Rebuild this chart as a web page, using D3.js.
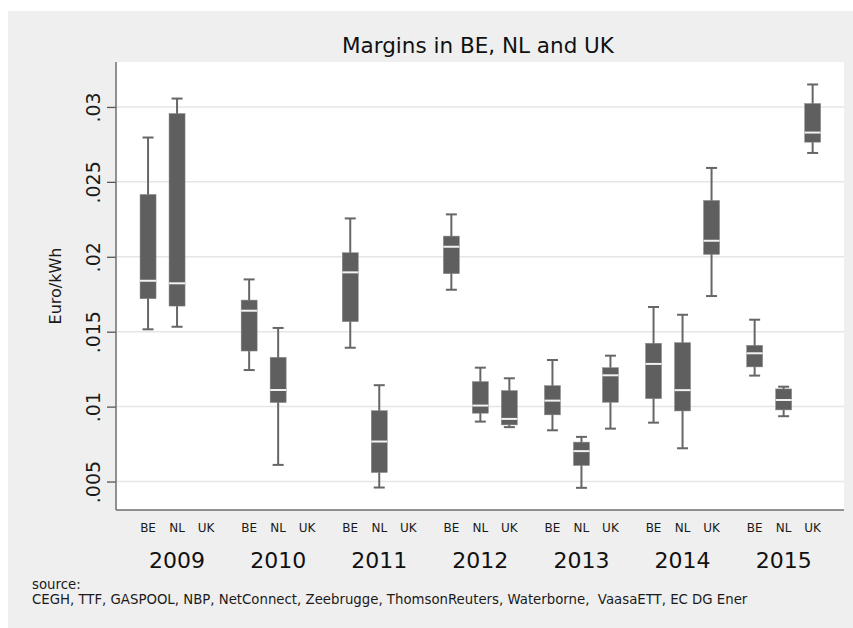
<!DOCTYPE html>
<html>
<head>
<meta charset="utf-8">
<script src="https://cdn.jsdelivr.net/npm/d3@7"></script>
<style>
  html, body { margin: 0; padding: 0; background: #ffffff; }
  text { font-family: "DejaVu Sans", Verdana, sans-serif; }
</style>
</head>
<body>
<svg id="chart" width="853" height="628"></svg>
<script>
// ---------- data ----------
const years = ["2009", "2010", "2011", "2012", "2013", "2014", "2015"];
const countries = ["BE", "NL", "UK"];

// Belgium
const beLow  = [0.01516, 0.01244, 0.01393, 0.01780, 0.00842, 0.00893, 0.01207];
const beQ1   = [0.01720, 0.01371, 0.01567, 0.01887, 0.00945, 0.01053, 0.01265];
const beMed  = [0.01840, 0.01640, 0.01896, 0.02067, 0.01040, 0.01285, 0.01356];
const beQ3   = [0.02416, 0.01711, 0.02027, 0.02138, 0.01140, 0.01423, 0.01409];
const beHigh = [0.02796, 0.01849, 0.02256, 0.02283, 0.01311, 0.01665, 0.01580];

// Netherlands
const nlLow  = [0.01533, 0.00611, 0.00460, 0.00900, 0.00458, 0.00722, 0.00936];
const nlQ1   = [0.01671, 0.01027, 0.00560, 0.00956, 0.00607, 0.00971, 0.00978];
const nlMed  = [0.01823, 0.01111, 0.00767, 0.01007, 0.00703, 0.01110, 0.01044];
const nlQ3   = [0.02956, 0.01329, 0.00973, 0.01167, 0.00763, 0.01427, 0.01118];
const nlHigh = [0.03056, 0.01525, 0.01143, 0.01260, 0.00798, 0.01613, 0.01133];

// United Kingdom (no data 2009-2011)
const ukLow  = [null, null, null, 0.00863, 0.00853, 0.01738, 0.02693];
const ukQ1   = [null, null, null, 0.00878, 0.01029, 0.02016, 0.02765];
const ukMed  = [null, null, null, 0.00918, 0.01209, 0.02107, 0.02829];
const ukQ3   = [null, null, null, 0.01107, 0.01260, 0.02376, 0.03023];
const ukHigh = [null, null, null, 0.01189, 0.01340, 0.02593, 0.03150];

const yTickValues = [0.005, 0.01, 0.015, 0.02, 0.025, 0.03];
const yTickLabels = [".005", ".01", ".015", ".02", ".025", ".03"];

const titleText = "Margins in BE, NL and UK";
const yTitle = "Euro/kWh";
const noteLines = ["source:", "CEGH, TTF, GASPOOL, NBP, NetConnect, Zeebrugge, ThomsonReuters, Waterborne,  VaasaETT, EC DG Ener"];

// ---------- build rows ----------
const seriesStats = {
  BE: [beLow, beQ1, beMed, beQ3, beHigh],
  NL: [nlLow, nlQ1, nlMed, nlQ3, nlHigh],
  UK: [ukLow, ukQ1, ukMed, ukQ3, ukHigh]
};
const rows = [];
years.forEach((yr, i) => {
  countries.forEach(c => {
    const s = seriesStats[c];
    if (s[2][i] == null) return;
    rows.push({ year: yr, country: c, low: s[0][i], q1: s[1][i], med: s[2][i], q3: s[3][i], high: s[4][i] });
  });
});

// ---------- layout ----------
const W = 853, H = 628;
const plot = { left: 116, top: 62, right: 844, bottom: 510 };

const svg = d3.select("#chart");

svg.append("rect").attr("x", 0).attr("y", 0).attr("width", W).attr("height", H).attr("fill", "#ffffff");
svg.append("rect").attr("x", 8).attr("y", 11).attr("width", W - 8).attr("height", H - 11).attr("fill", "#efefef");
svg.append("rect")
  .attr("x", plot.left).attr("y", plot.top)
  .attr("width", plot.right - plot.left).attr("height", plot.bottom - plot.top)
  .attr("fill", "#ffffff");

// scales
const x0 = d3.scaleBand().domain(years).range([126.5, 834.2]).padding(0);
const x1 = d3.scalePoint().domain(countries).range([-29, 29]);
const y = d3.scaleLinear().domain([0.0031, 0.0330]).range([plot.bottom, plot.top]);
const cx = d => x0(d.year) + x0.bandwidth() / 2 + x1(d.country);

// gridlines
svg.append("g").selectAll("line").data(yTickValues).join("line")
  .attr("x1", plot.left).attr("x2", plot.right)
  .attr("y1", d => y(d)).attr("y2", d => y(d))
  .attr("stroke", "#e6e6e6").attr("stroke-width", 1.5);

// boxes
const boxW = 16, capW = 11;
const g = svg.append("g");
const bx = g.selectAll("g.box").data(rows).join("g").attr("class", "box");

bx.append("line")
  .attr("x1", cx).attr("x2", cx)
  .attr("y1", d => y(d.high)).attr("y2", d => y(d.low))
  .attr("stroke", "#666666").attr("stroke-width", 2);
bx.append("line")
  .attr("x1", d => cx(d) - capW / 2).attr("x2", d => cx(d) + capW / 2)
  .attr("y1", d => y(d.high)).attr("y2", d => y(d.high))
  .attr("stroke", "#666666").attr("stroke-width", 2);
bx.append("line")
  .attr("x1", d => cx(d) - capW / 2).attr("x2", d => cx(d) + capW / 2)
  .attr("y1", d => y(d.low)).attr("y2", d => y(d.low))
  .attr("stroke", "#666666").attr("stroke-width", 2);
bx.append("rect")
  .attr("x", d => cx(d) - boxW / 2).attr("width", boxW)
  .attr("y", d => y(d.q3)).attr("height", d => y(d.q1) - y(d.q3))
  .attr("fill", "#5f5f5f").attr("stroke", "#8a8a8a").attr("stroke-width", 0.5);
bx.append("line")
  .attr("x1", d => cx(d) - boxW / 2).attr("x2", d => cx(d) + boxW / 2)
  .attr("y1", d => y(d.med)).attr("y2", d => y(d.med))
  .attr("stroke", "#f2f2f2").attr("stroke-width", 2);

// y axis (ticks via d3 axis, labels rotated like the reference)
const yAxis = d3.axisLeft(y).tickValues(yTickValues)
  .tickFormat(d => yTickLabels[yTickValues.indexOf(d)])
  .tickSize(9).tickPadding(7);
const ya = svg.append("g").attr("transform", `translate(${plot.left},0)`).call(yAxis);
ya.select(".domain").remove();
ya.selectAll(".tick line").attr("stroke", "#555555").attr("stroke-width", 1.3);
ya.selectAll(".tick text")
  .attr("x", null).attr("dy", null)
  .attr("transform", "translate(-16,0) rotate(-90)")
  .attr("text-anchor", "middle")
  .attr("font-family", "DejaVu Sans, Verdana, sans-serif")
  .attr("font-size", 19).attr("fill", "#1a1a1a");

// axis lines
svg.append("line").attr("x1", plot.left).attr("x2", plot.left)
  .attr("y1", plot.top).attr("y2", plot.bottom)
  .attr("stroke", "#6e6e6e").attr("stroke-width", 1.5);
svg.append("line").attr("x1", plot.left).attr("x2", plot.right)
  .attr("y1", plot.bottom).attr("y2", plot.bottom)
  .attr("stroke", "#6e6e6e").attr("stroke-width", 1.5);

// x labels: countries and years
const xl = svg.append("g");
years.forEach(yr => {
  countries.forEach(c => {
    xl.append("text")
      .attr("x", x0(yr) + x0.bandwidth() / 2 + x1(c))
      .attr("y", 532)
      .attr("text-anchor", "middle")
      .attr("font-size", 12).attr("fill", "#1a1a1a")
      .text(c);
  });
  xl.append("text")
    .attr("x", x0(yr) + x0.bandwidth() / 2)
    .attr("y", 568)
    .attr("text-anchor", "middle")
    .attr("font-size", 22).attr("fill", "#111111")
    .text(yr);
});

// title
svg.append("text")
  .attr("x", 478).attr("y", 53)
  .attr("text-anchor", "middle")
  .attr("font-size", 21.5).attr("fill", "#111111")
  .text(titleText);

// y title
svg.append("text")
  .attr("transform", `translate(61,286) rotate(-90)`)
  .attr("text-anchor", "middle")
  .attr("font-size", 16).attr("fill", "#1a1a1a")
  .text(yTitle);

// note
svg.append("g").selectAll("text").data(noteLines).join("text")
  .attr("x", 32).attr("y", (d, i) => 589 + i * 15)
  .attr("font-size", 13.3).attr("fill", "#1a1a1a")
  .attr("xml:space", "preserve")
  .style("white-space", "pre")
  .text(d => d);
</script>
</body>
</html>
